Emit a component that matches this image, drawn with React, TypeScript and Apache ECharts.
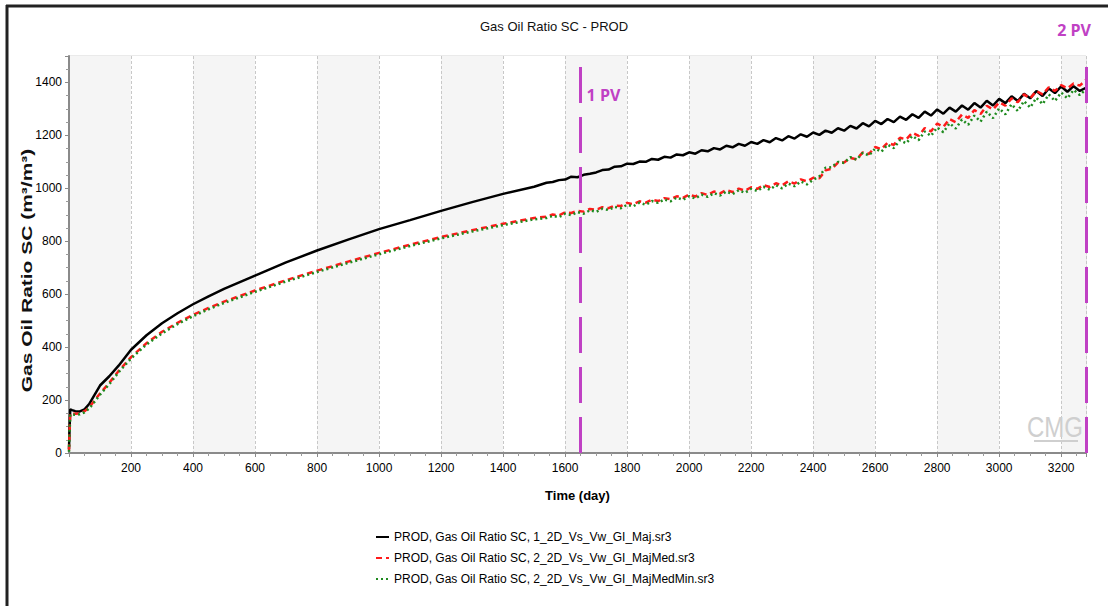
import React, { useEffect, useRef } from "react";
import * as echarts from "echarts";

const TITLE = "Gas Oil Ratio SC - PROD";
const X_NAME = "Time (day)";
const Y_NAME = "Gas Oil Ratio SC (m\u00b3/m\u00b3)";
const SERIES_NAMES = [
  "PROD, Gas Oil Ratio SC, 1_2D_Vs_Vw_GI_Maj.sr3",
  "PROD, Gas Oil Ratio SC, 2_2D_Vs_Vw_GI_MajMed.sr3",
  "PROD, Gas Oil Ratio SC, 2_2D_Vs_Vw_GI_MajMedMin.sr3",
];
const PV_DAYS = [1650, 3280];
const PV_LABELS = ["1 PV", "2 PV"];

const EARLY_DAYS = [0, 2, 4, 10, 20, 35, 50, 65, 80, 100, 130, 160, 200, 250, 300, 350, 400, 450, 500, 600, 700, 800, 900, 1000, 1100, 1200, 1300, 1400, 1500];
const LATE_DAYS = [
  1540, 1560, 1580, 1600, 1620, 1640, 1660, 1680, 1700, 1720, 1740, 1760, 1780, 1800,
  1820, 1840, 1860, 1880, 1900, 1920, 1940, 1960, 1980, 2000,
  2020, 2040, 2060, 2080, 2100, 2120, 2140, 2160, 2180, 2200,
  2220, 2240, 2260, 2280, 2300, 2320, 2340, 2360, 2380, 2400,
  2420, 2440, 2460, 2480, 2500, 2520, 2540, 2560, 2580, 2600,
  2620, 2640, 2660, 2680, 2700, 2720, 2740, 2760, 2780, 2800,
  2820, 2840, 2860, 2880, 2900, 2920, 2940, 2960, 2980, 3000,
  3020, 3040, 3060, 3080, 3100, 3120, 3140, 3160, 3180, 3200,
  3220, 3240, 3260, 3280,
];

const MAJ_EARLY = [15, 100, 165, 162, 158, 157, 165, 185, 215, 255, 290, 330, 390, 445, 490, 528, 562, 592, 620, 670, 720, 765, 806, 846, 880, 915, 948, 979, 1006];
const MAJ_LATE = [
  1021, 1024, 1031, 1033, 1044, 1042, 1051, 1055, 1060, 1069, 1071, 1082, 1083, 1093,
  1092, 1101, 1100, 1111, 1108, 1119, 1116, 1128, 1125, 1136,
  1131, 1144, 1140, 1152, 1147, 1161, 1155, 1168, 1161, 1175,
  1168, 1182, 1174, 1190, 1181, 1197, 1188, 1204, 1195, 1211,
  1202, 1218, 1210, 1227, 1218, 1236, 1226, 1246, 1234, 1255,
  1243, 1262, 1250, 1271, 1259, 1280, 1266, 1290, 1275, 1298,
  1282, 1305, 1290, 1313, 1297, 1322, 1305, 1331, 1313, 1338,
  1322, 1348, 1330, 1357, 1340, 1368, 1349, 1377, 1360, 1385,
  1365, 1386, 1368, 1380,
];

const MED_EARLY = [10, 90, 150, 150, 148, 150, 158, 172, 195, 225, 265, 310, 362, 415, 458, 492, 522, 548, 572, 614, 653, 689, 723, 756, 787, 816, 842, 866, 888];
const MED_LATE = [
  893, 901, 898, 909, 907, 915, 912, 922, 919, 929, 925, 935, 933, 945,
  940, 951, 946, 957, 952, 963, 959, 970, 964, 976,
  969, 982, 975, 988, 981, 994, 986, 999, 991, 1004,
  998, 1012, 1005, 1019, 1011, 1027, 1018, 1034, 1026, 1040,
  1038, 1068, 1074, 1097, 1098, 1115, 1110, 1136, 1130, 1156,
  1148, 1172, 1164, 1191, 1185, 1210, 1198, 1228, 1215, 1245,
  1232, 1262, 1250, 1279, 1266, 1296, 1281, 1312, 1298, 1325,
  1312, 1340, 1325, 1355, 1340, 1368, 1355, 1382, 1368, 1390,
  1378, 1396, 1388, 1410,
];

const MIN_EARLY = [5, 80, 145, 146, 144, 146, 154, 168, 190, 220, 260, 305, 357, 410, 452, 487, 517, 543, 567, 609, 648, 684, 718, 751, 782, 811, 837, 861, 883];
const MIN_LATE = [
  888, 896, 891, 904, 899, 910, 904, 917, 911, 923, 918, 930, 925, 938,
  932, 946, 938, 952, 945, 958, 951, 965, 957, 970,
  962, 976, 968, 982, 973, 988, 978, 993, 983, 998,
  990, 1006, 995, 1012, 1000, 1018, 1008, 1026, 1015, 1032,
  1045, 1078, 1080, 1100, 1096, 1118, 1108, 1134, 1124, 1150,
  1138, 1165, 1152, 1182, 1170, 1198, 1182, 1215, 1198, 1230,
  1212, 1246, 1226, 1260, 1240, 1275, 1252, 1290, 1265, 1302,
  1280, 1318, 1292, 1330, 1305, 1342, 1318, 1355, 1330, 1362,
  1340, 1372, 1352, 1375,
];

const X_MAX = 3280;
const Y_MAX = 1500;

const FONT = "'Liberation Sans', Arial, sans-serif";
const PURPLE = "#c041c4";

function pairs(days: number[], vals: number[]) {
  return days.map((d, i) => [d, vals[i]]);
}

export default function App() {
  const ref = useRef<HTMLDivElement>(null);
  useEffect(() => {
    if (!ref.current) return;
    const chart = echarts.init(ref.current, null, { renderer: "svg" });
    const days = EARLY_DAYS.concat(LATE_DAYS);
    const option: any = {
      animation: false,
      backgroundColor: "#ffffff",
      title: {
        text: TITLE,
        left: "center",
        top: 15,
        textStyle: { fontFamily: FONT, fontSize: 13, fontWeight: "normal", color: "#111" },
      },
      grid: {
        left: 69,
        right: 22,
        top: 56,
        bottom: 153,
        show: true,
        borderColor: "#d4d4d4",
        borderWidth: 1,
        backgroundColor: "transparent",
      },
      legend: {
        orient: "vertical",
        left: 370,
        top: 526,
        itemGap: 9,
        itemWidth: 13,
        itemHeight: 6,
        itemStyle: { opacity: 0 },
        textStyle: { fontFamily: FONT, fontSize: 12, color: "#000" },
        data: SERIES_NAMES,
      },
      xAxis: {
        type: "value",
        min: 0,
        max: X_MAX,
        interval: 200,
        name: X_NAME,
        nameLocation: "middle",
        nameGap: 36,
        nameTextStyle: { fontFamily: FONT, fontSize: 13, fontWeight: "bold", color: "#000" },
        axisLine: { show: true, lineStyle: { color: "#8a8a8a", width: 2 } },
        axisTick: { show: true, length: 4, lineStyle: { color: "#8a8a8a" } },
        minorTick: { show: true, splitNumber: 4, length: 3, lineStyle: { color: "#9a9a9a" } },
        axisLabel: {
          fontFamily: FONT,
          fontSize: 12,
          color: "#000",
          margin: 9,
          showMaxLabel: false,
          formatter: (v: number) => (v === 0 ? "" : String(v)),
        },
        splitLine: { show: true, lineStyle: { color: "#c8c8c8", type: [3, 2], width: 1 } },
        splitArea: { show: true, areaStyle: { color: ["#f5f5f5", "#ffffff"] } },
      },
      yAxis: {
        type: "value",
        min: 0,
        max: Y_MAX,
        interval: 200,
        axisLine: { show: true, lineStyle: { color: "#8a8a8a", width: 2 } },
        axisTick: { show: true, length: 4, lineStyle: { color: "#8a8a8a" } },
        minorTick: { show: true, splitNumber: 4, length: 3, lineStyle: { color: "#9a9a9a" } },
        axisLabel: {
          fontFamily: FONT,
          fontSize: 12,
          color: "#000",
          margin: 7,
          showMaxLabel: false,
          formatter: (v: number) => String(v),
        },
        splitLine: { show: true, lineStyle: { color: "#c8c8c8", type: [3, 2], width: 1 } },
      },
      series: [
        {
          name: SERIES_NAMES[0],
          type: "line",
          symbol: "none",
          data: pairs(days, MAJ_EARLY.concat(MAJ_LATE)),
          lineStyle: { color: "#000000", width: 2.5 },
          itemStyle: { color: "#000000" },
          z: 3,
          markLine: {
            silent: true,
            symbol: ["none", "none"],
            label: { show: false },
            lineStyle: { color: PURPLE, width: 3, type: [36, 14] },
            data: PV_DAYS.map((d) => ({ xAxis: d })),
            z: 10,
          },
        },
        {
          name: SERIES_NAMES[1],
          type: "line",
          symbol: "none",
          data: pairs(days, MED_EARLY.concat(MED_LATE)),
          lineStyle: { color: "#ff1a1a", width: 2.5, type: [6, 4] },
          itemStyle: { color: "#ff1a1a" },
          z: 4,
        },
        {
          name: SERIES_NAMES[2],
          type: "line",
          symbol: "none",
          data: pairs(days, MIN_EARLY.concat(MIN_LATE)),
          lineStyle: { color: "#1e8a1e", width: 2.5, type: [2, 3] },
          itemStyle: { color: "#1e8a1e" },
          z: 5,
        },
      ],
    };
    chart.setOption(option);

    const px1 = chart.convertToPixel({ xAxisIndex: 0 }, PV_DAYS[0]) as number;
    const px2 = chart.convertToPixel({ xAxisIndex: 0 }, PV_DAYS[1]) as number;
    const yMid = chart.convertToPixel({ yAxisIndex: 0 }, Y_MAX / 2) as number;

    chart.setOption({
      graphic: [
        {
          type: "line",
          shape: { x1: 7, y1: 5, x2: 7, y2: 606 },
          style: { stroke: "#222", lineWidth: 3 },
          z: 100,
        },
        {
          type: "line",
          shape: { x1: 6, y1: 6, x2: 1108, y2: 6 },
          style: { stroke: "#222", lineWidth: 3 },
          z: 100,
        },
        {
          type: "text",
          x: 27,
          y: yMid + 16,
          rotation: Math.PI / 2,
          scaleX: 1.5,
          style: {
            text: Y_NAME,
            fill: "#111",
            font: `bold 14px ${FONT}`,
            textAlign: "center",
            textVerticalAlign: "middle",
          },
          z: 100,
        },
        {
          type: "text",
          x: px1 + 6,
          y: 95,
          style: {
            text: PV_LABELS[0],
            fill: PURPLE,
            font: `bold 16px 'Open Sans', ${FONT}`,
            textAlign: "left",
            textVerticalAlign: "middle",
          },
          z: 100,
        },
        {
          type: "text",
          x: px2 + 5,
          y: 30,
          style: {
            text: PV_LABELS[1],
            fill: PURPLE,
            font: `bold 16px 'Open Sans', ${FONT}`,
            textAlign: "right",
            textVerticalAlign: "middle",
          },
          z: 100,
        },
        {
          type: "text",
          x: 1055,
          y: 427,
          scaleY: 1.25,
          style: {
            text: "CMG",
            fill: "#cfcfcf",
            font: `24px 'Liberation Sans Narrow', ${FONT}`,
            textAlign: "center",
            textVerticalAlign: "middle",
          },
          z: 1,
        },
        {
          type: "line",
          shape: { x1: 1034, y1: 441, x2: 1078, y2: 441 },
          style: { stroke: "#cfcfcf", lineWidth: 2 },
          z: 1,
        },
      ],
    });

    return () => chart.dispose();
  }, []);
  return (
    <div
      ref={ref}
      style={{ position: "fixed", left: 0, top: 0, width: 1108, height: 606, background: "#fff" }}
    />
  );
}
